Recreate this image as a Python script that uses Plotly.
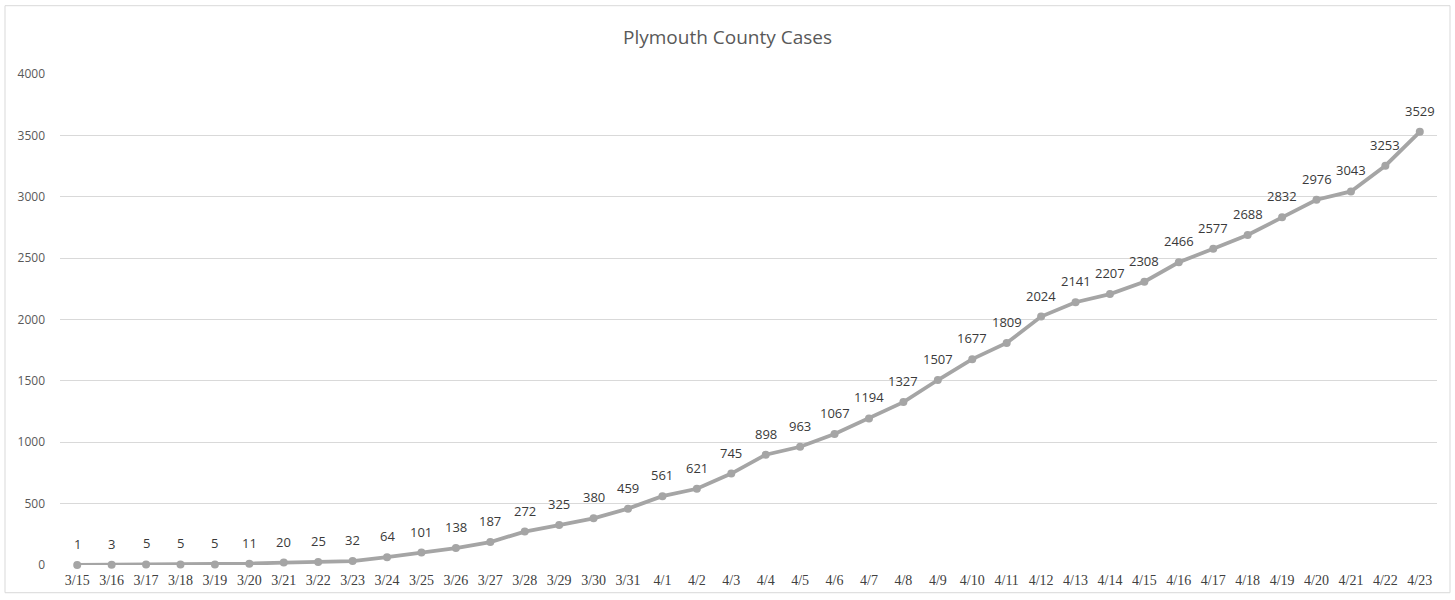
import plotly.graph_objects as go

dates = ["3/15","3/16","3/17","3/18","3/19","3/20","3/21","3/22","3/23","3/24",
         "3/25","3/26","3/27","3/28","3/29","3/30","3/31","4/1","4/2","4/3",
         "4/4","4/5","4/6","4/7","4/8","4/9","4/10","4/11","4/12","4/13",
         "4/14","4/15","4/16","4/17","4/18","4/19","4/20","4/21","4/22","4/23"]
cases = [1,3,5,5,5,11,20,25,32,64,101,138,187,272,325,380,459,561,621,745,
         898,963,1067,1194,1327,1507,1677,1809,2024,2141,2207,2308,2466,2577,2688,2832,2976,3043,3253,3529]
y_ticks = [0,500,1000,1500,2000,2500,3000,3500,4000]

W, H = 1455, 600
ml, mr, mt, mb = 60, 18, 74, 30

fig = go.Figure()
fig.add_trace(go.Scatter(
    x=dates, y=cases, mode="lines+markers",
    line=dict(color="#A5A5A5", width=3.8),
    marker=dict(color="#A5A5A5", size=8),
    cliponaxis=False, hoverinfo="x+y"
))

for d, v in zip(dates, cases):
    fig.add_annotation(x=d, y=v, text=str(v), showarrow=False, yshift=21,
                       font=dict(family="Open Sans, Liberation Sans, sans-serif", size=13, color="#3A3A3A"))

pw = W - ml - mr
ph = H - mt - mb
fig.add_shape(type="rect", xref="paper", yref="paper",
              x0=(5 - ml) / pw, x1=(W - 5 - ml) / pw,
              y0=(mt + ph - (H - 2)) / ph,
              y1=(mt + ph - 5) / ph,
              line=dict(color="#D9D9D9", width=1), fillcolor="rgba(0,0,0,0)", layer="below")

fig.update_layout(
    width=W, height=H,
    margin=dict(l=ml, r=mr, t=mt, b=mb),
    paper_bgcolor="white", plot_bgcolor="white",
    showlegend=False,
    title=dict(text="Plymouth County Cases", x=0.5, xanchor="center", y=1 - 37 / H, yanchor="middle",
               font=dict(family="Open Sans, Liberation Sans, sans-serif", size=19, color="#595959")),
    xaxis=dict(type="category", range=[-0.5, len(dates) - 0.5], showgrid=False, zeroline=False,
               showline=False, ticks="", ticklabelstandoff=5,
               tickfont=dict(family="Liberation Serif, Times New Roman, serif", size=14, color="#404040")),
    yaxis=dict(range=[0, 4000], tickvals=y_ticks, showgrid=True, gridcolor="#D9D9D9", gridwidth=1,
               zeroline=False, showline=False, ticks="", ticklabelstandoff=14,
               tickfont=dict(family="Open Sans, Liberation Sans, sans-serif", size=12, color="#595959")),
)

fig.write_html("out.html", config={"displayModeBar": False},
               post_script="document.body.style.margin='0';")
